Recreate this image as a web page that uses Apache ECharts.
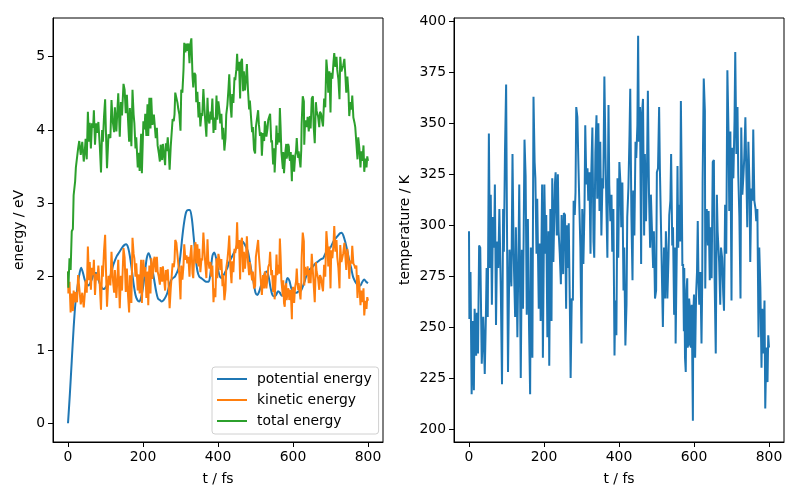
<!DOCTYPE html>
<html><head><meta charset="utf-8">
<script src="https://cdn.jsdelivr.net/npm/echarts@6/dist/echarts.min.js"></script>
<style>html,body{margin:0;padding:0;background:#fff}#c{width:800px;height:500px}</style>
</head><body><div id="c"></div>
<script>
// time (fs) for temperature, kinetic and total energy
const time = [0,1,4,7,10,13,15,19,21,24,27,30,34,38,42,45,47,50,53,56,58,61,64,67,69,72,75,78,81,85,88,91,93,96,99,101,104,108,110,113,116,119,123,125,129,132,134,138,141,144,148,151,154,157,160,163,165,169,172,175,177,180,182,186,189,191,195,197,201,204,206,209,212,214,217,220,222,225,229,231,234,237,239,242,245,247,251,253,256,259,261,
263,266,269,271,274,277,279,282,284,286,289,292,294,297,300,302,305,308,310,313,316,318,321,324,326,329,332,334,337,340,342,345,348,350,353,356,358,361,364,366,369,372,374,377,380,382,385,388,390,393,396,398,401,404,406,409,412,414,417,420,422,425,428,430,433,436,438,441,444,446,449,451,453,456,459,461,464,467,469,472,475,477,480,483,485,488,491,493,496,499,501,504,507,509,512,515,517,520,523,525,
527,529,532,534,537,539,542,544,547,550,551,554,556,558,560,563,565,567,569,571,573,574,576,578,580,582,583,585,587,589,590,592,594,597,598,600,603,605,606,608,610,612,614,615,617,620,622,623,626,629,630,632,634,637,639,642,645,647,650,653,655,658,661,663,667,670,672,675,678,680,683,686,689,692,694,697,700,702,705,708,710,713,716,718,721,724,726,729,732,734,737,740,742,745,748,750,753,756,758,761,764,766,769,772,774,777,780,782,785,788,790,793,796,798,800];
const temperature = [297,254,277,217,253,219,259,236,257,237,290,289,232,255,227,255,279,255,345,279,315,261,304,289,320,251,292,279,308,266,222,308,287,337,369,307,228,288,288,270,335,286,255,299,245,287,320,225,288,259,342,324,256,303,251,217,289,235,363,331,323,286,313,259,291,253,320,235,320,286,305,245,297,231,308,253,323,282,320,326,295,325,297,286,271,305,276,306,305,259,300,
279,301,259,225,264,263,312,305,316,358,353,328,312,289,242,308,281,308,349,320,328,312,326,286,325,348,292,284,336,354,313,350,307,341,295,323,318,373,335,313,284,359,320,302,315,287,308,236,263,246,323,284,331,320,299,321,268,289,241,261,304,318,344,367,305,273,317,295,341,333,349,393,341,358,281,354,362,295,335,302,333,366,315,289,315,297,279,297,264,268,326,328,358,328,299,299,250,289,264,297,
286,264,284,305,312,335,290,299,256,289,242,286,329,289,310,292,361,325,280,281,248,279,235,228,268,274,240,242,264,259,241,240,261,204,256,266,235,259,268,277,302,273,261,273,277,242,273,322,372,356,269,305,308,290,307,273,299,274,331,332,273,237,315,297,282,261,289,284,266,258,310,286,376,346,307,346,263,338,323,351,385,335,358,325,304,264,348,315,325,333,353,322,299,341,320,282,318,312,347,312,308,302,308,245,289,269,230,259,237,263,210,240,223,246,240];
const kinetic = [2.07,1.77,1.93,1.51,1.77,1.53,1.81,1.65,1.79,1.65,2.02,2.02,1.62,1.78,1.58,1.78,1.95,1.78,2.41,1.95,2.20,1.82,2.12,2.02,2.23,1.75,2.04,1.95,2.15,1.86,1.55,2.15,2.00,2.35,2.57,2.14,1.59,2.01,2.01,1.88,2.34,2.00,1.78,2.09,1.71,2.00,2.23,1.57,2.01,1.81,2.39,2.26,1.79,2.11,1.75,1.51,2.02,1.64,2.53,2.31,2.25,2.00,2.18,1.81,2.03,1.77,2.23,1.64,2.23,2.00,2.13,1.71,2.07,1.61,2.15,1.77,2.25,1.97,2.23,2.27,2.06,2.27,2.07,2.00,1.89,2.13,1.93,2.14,2.13,1.81,2.09,
1.95,2.10,1.81,1.57,1.84,1.84,2.18,2.13,2.21,2.50,2.46,2.29,2.18,2.02,1.69,2.15,1.96,2.15,2.44,2.23,2.29,2.18,2.27,2.00,2.27,2.43,2.04,1.98,2.34,2.47,2.18,2.44,2.14,2.38,2.06,2.25,2.22,2.60,2.34,2.18,1.98,2.51,2.23,2.11,2.20,2.00,2.15,1.65,1.84,1.72,2.25,1.98,2.31,2.23,2.09,2.24,1.87,2.02,1.68,1.82,2.12,2.22,2.40,2.56,2.13,1.91,2.21,2.06,2.38,2.32,2.44,2.74,2.38,2.50,1.96,2.47,2.53,2.06,2.34,2.11,2.32,2.55,2.20,2.02,2.20,2.07,1.95,2.07,1.84,1.87,2.27,2.29,2.50,2.29,2.09,2.09,1.75,2.02,1.84,2.07,
2.00,1.84,1.98,2.13,2.18,2.34,2.02,2.09,1.79,2.02,1.69,2.00,2.30,2.02,2.16,2.04,2.52,2.27,1.95,1.96,1.73,1.95,1.64,1.59,1.87,1.91,1.68,1.69,1.84,1.81,1.68,1.67,1.82,1.42,1.79,1.86,1.64,1.81,1.87,1.93,2.11,1.91,1.82,1.91,1.93,1.69,1.91,2.25,2.60,2.48,1.88,2.13,2.15,2.02,2.14,1.91,2.09,1.91,2.31,2.32,1.91,1.65,2.20,2.07,1.97,1.82,2.02,1.98,1.86,1.80,2.16,2.00,2.62,2.41,2.14,2.41,1.84,2.36,2.25,2.45,2.69,2.34,2.50,2.27,2.12,1.84,2.43,2.20,2.27,2.32,2.46,2.25,2.09,2.38,2.23,1.97,2.22,2.18,2.42,2.18,2.15,2.11,2.15,1.71,2.02,1.88,1.61,1.81,1.65,1.84,1.47,1.67,1.56,1.72,1.67];
const total = [2.07,1.85,2.25,2.09,2.62,2.65,3.11,3.30,3.49,3.50,3.75,3.85,3.66,3.84,3.57,3.73,3.88,3.60,4.25,3.84,4.10,3.75,4.09,4.03,4.27,3.80,4.09,3.96,4.11,3.76,3.42,4.00,3.84,4.18,4.42,4.00,3.48,3.94,3.96,3.89,4.41,4.13,3.97,4.31,3.98,4.30,4.50,3.91,4.38,4.20,4.63,4.55,4.23,4.48,4.15,3.84,4.30,3.78,4.55,4.21,4.09,3.75,3.90,3.49,3.69,3.44,3.95,3.41,4.12,4.01,4.22,3.92,4.35,3.92,4.44,4.02,4.44,4.07,4.21,4.19,3.89,4.03,3.79,3.69,3.57,3.80,3.59,3.81,3.82,3.52,3.82,
3.71,3.90,3.67,3.46,3.78,3.80,4.15,4.12,4.21,4.51,4.50,4.37,4.29,4.21,3.99,4.55,4.51,4.82,5.19,5.06,5.18,5.08,5.18,4.91,5.16,5.25,4.74,4.58,4.78,4.75,4.38,4.52,4.17,4.38,4.05,4.23,4.19,4.56,4.28,4.12,3.91,4.44,4.16,4.09,4.25,4.14,4.43,3.96,4.17,4.00,4.47,4.14,4.39,4.25,4.09,4.22,3.87,4.03,3.72,3.89,4.21,4.34,4.57,4.76,4.36,4.17,4.49,4.37,4.72,4.68,4.83,5.04,4.81,4.93,4.43,4.92,4.97,4.53,4.80,4.54,4.72,4.90,4.54,4.28,4.40,4.18,3.97,4.04,3.73,3.68,4.04,4.05,4.27,4.08,3.92,3.97,3.65,3.96,3.85,4.12,
4.06,3.91,4.02,4.14,4.12,4.22,3.83,3.86,3.53,3.75,3.42,3.75,4.06,3.80,3.96,3.83,4.30,4.03,3.70,3.70,3.47,3.70,3.41,3.40,3.72,3.81,3.61,3.67,3.81,3.77,3.63,3.58,3.70,3.30,3.61,3.66,3.43,3.59,3.65,3.71,3.89,3.70,3.62,3.71,3.73,3.49,3.73,4.08,4.46,4.39,3.80,4.08,4.13,4.04,4.18,3.98,4.19,4.02,4.43,4.46,4.06,3.82,4.38,4.26,4.18,4.04,4.25,4.22,4.11,4.05,4.43,4.31,4.96,4.77,4.51,4.80,4.24,4.78,4.70,4.93,5.05,4.86,5.00,4.82,4.69,4.42,5.00,4.80,4.85,4.88,4.97,4.71,4.51,4.73,4.50,4.19,4.38,4.28,4.47,4.17,4.10,4.04,4.06,3.60,3.90,3.75,3.49,3.71,3.58,3.79,3.43,3.61,3.49,3.64,3.58];
// potential energy (smooth curve) sampled every 5 fs
const timePE = [0,5,10,15,20,25,30,35,40,45,50,55,60,65,70,75,80,85,90,95,100,105,110,115,120,125,130,135,140,145,150,155,160,165,170,175,180,185,190,195,200,205,210,215,220,225,230,235,240,245,250,255,260,265,270,275,280,285,290,295,300,305,310,315,320,325,330,335,340,345,350,355,360,365,370,375,380,385,390,395,400,405,410,415,420,425,430,435,440,445,450,455,460,465,470,475,480,485,490,495,500,505,510,515,520,525,530,535,540,545,550,555,560,565,570,575,580,585,590,595,600,605,610,615,620,625,630,635,640,645,650,655,660,665,670,675,680,685,690,695,700,705,710,715,720,725,730,735,740,745,750,755,760,765,770,775,780,785,790,795,800];
const potential = [0.00,0.40,0.85,1.30,1.65,1.85,2.02,2.12,2.05,1.95,1.90,1.88,1.92,1.98,2.05,2.05,1.98,1.90,1.85,1.83,1.85,1.90,1.95,2.05,2.15,2.22,2.28,2.32,2.36,2.40,2.43,2.44,2.40,2.28,2.10,1.90,1.75,1.68,1.66,1.72,1.85,2.05,2.25,2.32,2.25,2.10,1.95,1.80,1.70,1.68,1.66,1.68,1.72,1.78,1.88,1.95,1.98,2.00,2.05,2.12,2.30,2.55,2.75,2.88,2.91,2.91,2.80,2.55,2.28,2.08,2.00,1.98,1.96,1.94,1.93,1.93,2.05,2.28,2.33,2.25,2.10,2.00,1.98,2.02,2.07,2.12,2.20,2.25,2.30,2.35,2.40,2.45,2.48,2.48,2.45,2.40,2.34,2.20,2.05,1.92,1.78,1.75,1.80,1.88,1.94,2.05,2.07,2.00,1.85,1.75,1.73,1.75,1.80,1.78,1.74,1.75,1.85,1.98,1.95,1.85,1.80,1.78,1.78,1.80,1.80,1.85,1.92,2.00,2.05,2.10,2.12,2.15,2.18,2.20,2.22,2.24,2.25,2.30,2.35,2.38,2.40,2.45,2.50,2.53,2.56,2.59,2.60,2.55,2.46,2.35,2.22,2.12,2.00,1.94,1.90,1.87,1.88,1.93,1.96,1.93,1.91];
const xTicks = [0,200,400,600,800];
const energyTicks = [0,1,2,3,4,5];
const tempTicks = [200,225,250,275,300,325,350,375,400];

const FONT = 'DejaVu Sans';
const FS = 13.9;
function pairs(xs, ys){ return xs.map((x,i)=>[x, ys[i]]); }
function xAxisDef(gi){
  return {type:'value', gridIndex:gi, min:-40, max:840,
    splitLine:{show:false},
    axisLine:{show:true,onZero:false,lineStyle:{color:'#000',width:1}},
    axisTick:{show:true,inside:false,length:5,customValues:xTicks,lineStyle:{color:'#000',width:1}},
    axisLabel:{customValues:xTicks,margin:8,color:'#000',fontSize:FS,fontFamily:FONT},
    name:'t / fs', nameLocation:'middle', nameGap:30,
    nameTextStyle:{color:'#000',fontSize:FS,fontFamily:FONT}};
}
function yAxisDef(gi, mn, mx, ticks, name, gap){
  return {type:'value', gridIndex:gi, min:mn, max:mx,
    splitLine:{show:false},
    axisLine:{show:true,onZero:false,lineStyle:{color:'#000',width:1}},
    axisTick:{show:true,inside:false,length:5,customValues:ticks,lineStyle:{color:'#000',width:1}},
    axisLabel:{customValues:ticks,margin:8,color:'#000',fontSize:FS,fontFamily:FONT},
    name:name, nameLocation:'middle', nameGap:gap, nameRotate:90,
    nameTextStyle:{color:'#000',fontSize:FS,fontFamily:FONT}};
}
function lineSeries(name, color, data, xi, yi, smooth){
  return {type:'line', name:name, xAxisIndex:xi, yAxisIndex:yi, data:data,
    showSymbol:false, symbol:'none', smooth:smooth||false, silent:true,
    lineStyle:{width:2,color:color}, itemStyle:{color:color}};
}
const chart = echarts.init(document.getElementById('c'), null, {renderer:'canvas'});
chart.setOption({
  animation:false,
  backgroundColor:'#fff',
  grid:[
    {left:53, top:18, width:330, height:424, show:true, borderColor:'#000', borderWidth:1, backgroundColor:'transparent'},
    {left:454, top:18, width:330, height:424, show:true, borderColor:'#000', borderWidth:1, backgroundColor:'transparent'}
  ],
  xAxis:[xAxisDef(0), xAxisDef(1)],
  yAxis:[
    yAxisDef(0, -0.256, 5.528, energyTicks, 'energy / eV', 27),
    yAxisDef(1, 193.6, 401.7, tempTicks, 'temperature / K', 42)
  ],
  legend:{
    data:['potential energy','kinetic energy','total energy'],
    orient:'vertical', left:212, top:367,
    icon:'rect', itemWidth:30, itemHeight:2, itemGap:7,
    padding:[5,7,6,5],
    backgroundColor:'rgba(255,255,255,0.8)', borderColor:'#d0d0d0', borderWidth:1, borderRadius:3,
    textStyle:{color:'#000',fontSize:FS,fontFamily:FONT,padding:[0,0,0,5]},
    selectedMode:false
  },
  series:[
    lineSeries('potential energy','#1f77b4', pairs(timePE, potential), 0, 0, 0.3),
    lineSeries('kinetic energy','#ff7f0e', pairs(time, kinetic), 0, 0),
    lineSeries('total energy','#2ca02c', pairs(time, total), 0, 0),
    lineSeries('temperature','#1f77b4', pairs(time, temperature), 1, 1)
  ]
});
</script>
</body></html>
